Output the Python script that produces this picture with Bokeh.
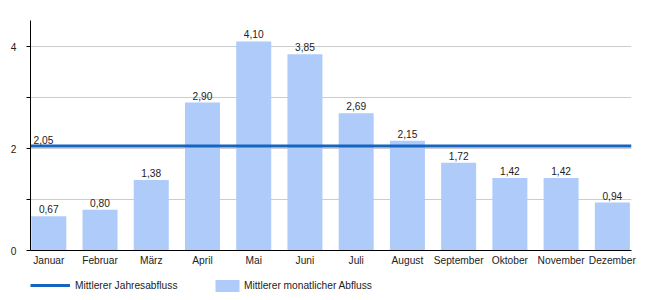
from bokeh.plotting import figure
from bokeh.models import ColumnDataSource, Range1d, FixedTicker, Legend, LegendItem
from bokeh.layouts import column
from bokeh.core.properties import value
from bokeh.embed import file_html
from bokeh.resources import INLINE

# ---- data ----
months = ["Januar", "Februar", "März", "April", "Mai", "Juni", "Juli",
          "August", "September", "Oktober", "November", "Dezember"]
monthly = [0.67, 0.80, 1.38, 2.90, 4.10, 3.85, 2.69, 2.15, 1.72, 1.42, 1.42, 0.94]
annual = 2.05
y_ticks = [0, 1, 2, 3, 4]
y_tick_labels = ["0", "", "2", "", "4"]
series_names = ["Mittlerer Jahresabfluss", "Mittlerer monatlicher Abfluss"]

FONT = "Liberation Sans"
FS = "10.2px"
TXT = "#222222"
BAR = "#aecbfa"
LINE = "#1565c0"

x_idx = list(range(len(months)))
x_start, x_end = -0.357, 11.374

src = ColumnDataSource(dict(
    x=x_idx, v=monthly,
    lab=[f"{v:.2f}".replace(".", ",") for v in monthly],
))

p = figure(width=650, height=270,
           x_range=Range1d(x_start, x_end), y_range=Range1d(0, 4.51),
           output_backend="svg", toolbar_location=None,
           min_border_left=30, min_border_right=19,
           min_border_top=20, min_border_bottom=20)
p.outline_line_color = None
p.background_fill_color = "white"

bars = p.vbar(x="x", top="v", width=0.683, bottom=0, source=src,
              fill_color=BAR, line_color=None)
line = p.line(x=[x_start, x_end], y=[annual, annual], line_color=LINE, line_width=3)

p.text(x="x", y="v", text="lab", source=src, text_align="center",
       text_baseline="bottom", y_offset=-3, text_font=value(FONT),
       text_font_size=FS, text_color=TXT)
p.text(x=[x_start], y=[annual], text=[f"{annual:.2f}".replace(".", ",")],
       text_align="left", text_baseline="bottom", x_offset=3, y_offset=-2,
       text_font=value(FONT), text_font_size=FS, text_color=TXT)

# axes
xa = p.xaxis[0]
xa.ticker = FixedTicker(ticks=x_idx)
xa.major_label_overrides = {i: m for i, m in zip(x_idx, months)}
xa.major_tick_out = 0
xa.major_tick_in = 0
xa.minor_tick_out = 0
xa.minor_tick_in = 0
xa.major_label_standoff = 4
xa.axis_line_color = "black"
xa.major_label_text_font = FONT
xa.major_label_text_font_size = FS
xa.major_label_text_color = TXT

ya = p.yaxis[0]
ya.ticker = FixedTicker(ticks=y_ticks)
ya.major_label_overrides = {t: l for t, l in zip(y_ticks, y_tick_labels)}
ya.major_tick_out = 4
ya.major_tick_in = 0
ya.minor_tick_out = 0
ya.minor_tick_in = 0
ya.major_label_standoff = 10
ya.axis_line_color = "black"
ya.major_tick_line_color = "black"
ya.major_label_text_font = FONT
ya.major_label_text_font_size = FS
ya.major_label_text_color = TXT

p.xgrid.grid_line_color = None
p.ygrid.ticker = FixedTicker(ticks=[t for t in y_ticks if t > 0])
p.ygrid.grid_line_color = "#cccccc"

# ---- legend row (swatch renderers sit outside the visible range) ----
lf = figure(width=650, height=30, x_range=Range1d(0, 1), y_range=Range1d(0, 1),
            output_backend="svg", toolbar_location=None,
            x_axis_type=None, y_axis_type=None, min_border=0)
lf.outline_line_color = None
lf.xgrid.grid_line_color = None
lf.ygrid.grid_line_color = None
l_line = lf.line(x=[5, 6], y=[5, 5], line_color=LINE, line_width=3)
l_bar = lf.vbar(x=[5], top=[6], bottom=[5], width=0.5, fill_color=BAR, line_color=None)

common = dict(padding=0, margin=0, border_line_color=None,
              background_fill_alpha=0, label_text_font=FONT,
              label_text_font_size=FS, label_text_color=TXT,
              label_height=12, orientation="horizontal")
leg_a = Legend(items=[LegendItem(label=series_names[0], renderers=[l_line])],
               location=(0, 9), glyph_width=40, glyph_height=12,
               label_standoff=5, **common)
leg_b = Legend(items=[LegendItem(label=series_names[1], renderers=[l_bar])],
               location=(182, 7.5), glyph_width=30, glyph_height=15,
               label_standoff=2, **common)
lf.add_layout(leg_a)
lf.add_layout(leg_b)

layout = column(p, lf, spacing=0)
open("out.html", "w").write(file_html(layout, INLINE))
